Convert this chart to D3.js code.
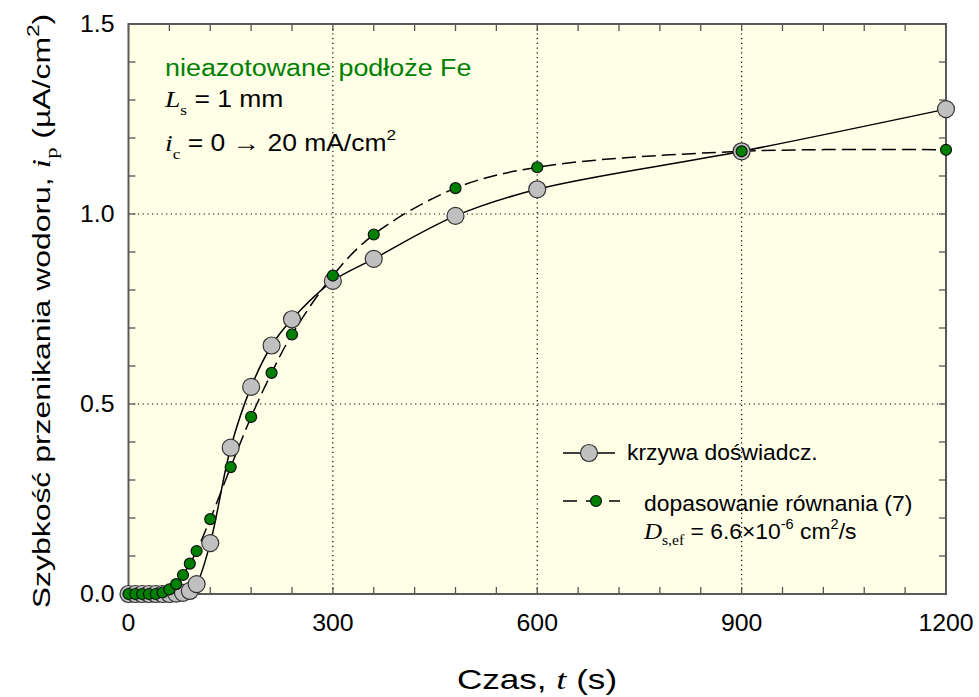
<html>
<head>
<meta charset="utf-8">
<title>Szybkość przenikania wodoru</title>
<script src="https://d3js.org/d3.v7.min.js"></script>
<style>
  body { margin: 0; background: #fff; }
  text { font-family: Arial, "Liberation Sans", sans-serif; }
  .serif { font-family: "Liberation Serif", "Times New Roman", serif; }
</style>
</head>
<body>
<div id="chart"></div>
<script>
// czas pomiaru (s)
var czas = [0, 10, 20, 30, 40, 50, 60, 70, 80, 90, 100, 120, 150, 180, 210, 240, 300, 360, 480, 600, 900, 1200];
// krzywa doswiadczalna
var krzywa = [0, 0, 0, 0, 0, 0, 0, 0.001, 0.003, 0.008, 0.026, 0.134, 0.385, 0.545, 0.654, 0.723, 0.824, 0.882, 0.995, 1.065, 1.165, 1.276];
// dopasowanie rownania (7)
var dopasowanie = [0, 0, 0, 0, 0, 0.004, 0.012, 0.026, 0.05, 0.08, 0.113, 0.197, 0.334, 0.466, 0.582, 0.683, 0.838, 0.946, 1.068, 1.123, 1.165, 1.169];

var xTicks = [0, 300, 600, 900, 1200];
var yTicks = [0, 0.5, 1.0, 1.5];

var W = 979, H = 697;
var margin = {top: 24, right: 33, bottom: 103, left: 128.5};
var width = W - margin.left - margin.right,
    height = H - margin.top - margin.bottom;

var svg = d3.select("#chart").append("svg")
    .attr("width", W).attr("height", H);
var g = svg.append("g")
    .attr("transform", "translate(" + margin.left + "," + margin.top + ")");

var x = d3.scaleLinear().domain([0, 1200]).range([0, width]);
var y = d3.scaleLinear().domain([0, 1.5]).range([height, 0]);

// tekst rozciagniety w poziomie (jak w oryginale)
function stext(parent, px, py, sx, size, rot) {
    var tr = "translate(" + px + "," + py + ")" + (rot ? " rotate(" + rot + ")" : "") + " scale(" + sx + ",1)";
    return parent.append("text").attr("transform", tr).attr("font-size", size);
}

// tlo
g.append("rect").attr("width", width).attr("height", height).attr("fill", "#ffffe8");

// siatka kropkowana
g.selectAll(".gx").data([300, 600, 900]).enter().append("line")
    .attr("x1", d => x(d)).attr("x2", d => x(d)).attr("y1", 0).attr("y2", height)
    .attr("stroke", "#000").attr("stroke-width", 1.2).attr("stroke-dasharray", "1.2,3.5");
g.selectAll(".gy").data([0.5, 1.0]).enter().append("line")
    .attr("y1", d => y(d)).attr("y2", d => y(d)).attr("x1", 0).attr("x2", width)
    .attr("stroke", "#000").attr("stroke-width", 1.2).attr("stroke-dasharray", "1.2,3.5");

// podzialki do wewnatrz na wszystkich bokach
var xMinor = d3.range(0, 1201, 60);
var yMinor = d3.range(0, 1.501, 0.1);
var tickCol = "#555";
g.selectAll(".tb").data(xMinor).enter().append("line")
    .attr("x1", d => x(d)).attr("x2", d => x(d)).attr("y1", height).attr("y2", height - 7)
    .attr("stroke", tickCol).attr("stroke-width", 1.3);
g.selectAll(".tt").data(xMinor).enter().append("line")
    .attr("x1", d => x(d)).attr("x2", d => x(d)).attr("y1", 0).attr("y2", 7)
    .attr("stroke", tickCol).attr("stroke-width", 1.3);
g.selectAll(".tl").data(yMinor).enter().append("line")
    .attr("y1", d => y(d)).attr("y2", d => y(d)).attr("x1", 0).attr("x2", 7)
    .attr("stroke", tickCol).attr("stroke-width", 1.3);
g.selectAll(".tr").data(yMinor).enter().append("line")
    .attr("y1", d => y(d)).attr("y2", d => y(d)).attr("x1", width).attr("x2", width - 7)
    .attr("stroke", tickCol).attr("stroke-width", 1.3);

// ramka
g.append("rect").attr("width", width).attr("height", height)
    .attr("fill", "none").attr("stroke", "#5a5a5a").attr("stroke-width", 2);

// etykiety osi
xTicks.forEach(function(d) {
    stext(g, x(d), height + 37, 1.08, 23).attr("text-anchor", "middle").text(d);
});
yTicks.forEach(function(d) {
    stext(g, -14, y(d) + 8, 1.08, 23).attr("text-anchor", "end").text(d.toFixed(1));
});

// linie
var line = d3.line().x((d, i) => x(czas[i])).y(d => y(d)).curve(d3.curveCatmullRom.alpha(0.5));
g.append("path").attr("d", line(krzywa))
    .attr("fill", "none").attr("stroke", "#000").attr("stroke-width", 1.5);
g.append("path").attr("d", line(dopasowanie))
    .attr("fill", "none").attr("stroke", "#000").attr("stroke-width", 1.5)
    .attr("stroke-dasharray", "14,6");

// punkty
g.selectAll(".pk").data(krzywa).enter().append("circle")
    .attr("cx", (d, i) => x(czas[i])).attr("cy", d => y(d)).attr("r", 8.5)
    .attr("fill", "#c0c0c0").attr("stroke", "#333").attr("stroke-width", 1.2);
g.selectAll(".pd").data(dopasowanie).enter().append("circle")
    .attr("cx", (d, i) => x(czas[i])).attr("cy", d => y(d)).attr("r", 5.5)
    .attr("fill", "#008000").attr("stroke", "#111").attr("stroke-width", 1.2);

// opis w rogu
stext(svg, 165, 76, 1.17, 23).attr("fill", "#008000").text("nieazotowane podłoże Fe");
var t1 = stext(svg, 165, 107, 1.15, 23);
t1.append("tspan").attr("class", "serif").attr("font-style", "italic").attr("font-size", 24).text("L");
t1.append("tspan").attr("class", "serif").attr("font-size", 15).attr("dy", 8).text("s");
t1.append("tspan").attr("dy", -8).text(" = 1 mm");
var t2 = stext(svg, 165, 151, 1.15, 23);
t2.append("tspan").attr("class", "serif").attr("font-style", "italic").attr("font-size", 24).text("i");
t2.append("tspan").attr("class", "serif").attr("font-size", 15).attr("dy", 8).text("c");
t2.append("tspan").attr("dy", -8).text(" = 0 ");
t2.append("tspan").attr("class", "serif").attr("font-size", 24).text("\u2192");
t2.append("tspan").text(" 20 mA/cm");
t2.append("tspan").attr("font-size", 15).attr("dy", -11).text("2");

// legenda
svg.append("line").attr("x1", 563).attr("x2", 615).attr("y1", 453).attr("y2", 453)
    .attr("stroke", "#000").attr("stroke-width", 1.5);
svg.append("circle").attr("cx", 589).attr("cy", 453).attr("r", 8.5)
    .attr("fill", "#c0c0c0").attr("stroke", "#333").attr("stroke-width", 1.2);
stext(svg, 627, 460, 1.04, 22).text("krzywa doświadcz.");

svg.append("line").attr("x1", 563).attr("x2", 620).attr("y1", 501).attr("y2", 501)
    .attr("stroke", "#000").attr("stroke-width", 1.5).attr("stroke-dasharray", "14,9");
svg.append("circle").attr("cx", 596).attr("cy", 501).attr("r", 5.5)
    .attr("fill", "#008000").attr("stroke", "#111").attr("stroke-width", 1.2);
stext(svg, 644, 511, 1.04, 22).text("dopasowanie równania (7)");
var t3 = stext(svg, 644, 539, 1.04, 22);
t3.append("tspan").attr("class", "serif").attr("font-style", "italic").attr("font-size", 24).text("D");
t3.append("tspan").attr("class", "serif").attr("font-size", 15).attr("dy", 6).text("s,ef");
t3.append("tspan").attr("dy", -6).text(" = 6.6\u00d710");
t3.append("tspan").attr("font-size", 14).attr("dy", -10).text("-6");
t3.append("tspan").attr("dy", 10).text(" cm");
t3.append("tspan").attr("font-size", 14).attr("dy", -10).text("2");
t3.append("tspan").attr("dy", 10).text("/s");

// tytuly osi
var xt = stext(svg, 537, 689, 1.3, 27).attr("text-anchor", "middle");
xt.append("tspan").text("Czas, ");
xt.append("tspan").attr("class", "serif").attr("font-style", "italic").attr("font-size", 28).text("t");
xt.append("tspan").text(" (s)");

var yt = stext(svg, 50, 311, 1.33, 24, -90).attr("text-anchor", "middle");
yt.append("tspan").text("Szybkość przenikania wodoru, ");
yt.append("tspan").attr("class", "serif").attr("font-style", "italic").attr("font-size", 26).text("i");
yt.append("tspan").attr("class", "serif").attr("font-size", 17).attr("dy", 7).text("p");
yt.append("tspan").attr("dy", -7).text(" (\u00b5A/cm");
yt.append("tspan").attr("font-size", 17).attr("dy", -11).text("2");
yt.append("tspan").attr("dy", 11).text(")");
</script>
</body>
</html>
